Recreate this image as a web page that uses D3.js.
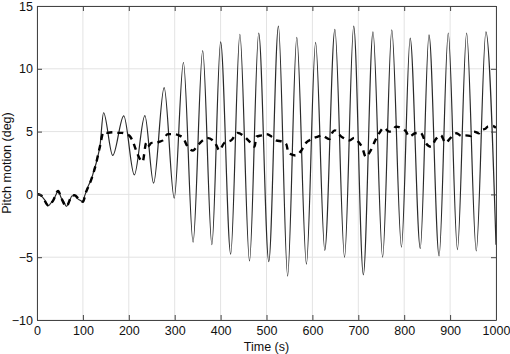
<!DOCTYPE html>
<meta charset="utf-8">
<style>
  body { margin: 0; background: #fff; }
  svg text { font-family: "Liberation Sans", Arial, sans-serif; font-size: 12.5px; fill: #111; }
</style>
<body>
<svg id="chart" width="510" height="354"></svg>
<script src="https://d3js.org/d3.v7.min.js"></script>
<script>
// pitch motion, thin solid line (time s, deg)
var motionTime = [0, 5, 10, 16, 25, 30, 35, 41, 46, 53, 58, 64, 70, 76, 82, 87, 93, 100, 104, 107, 112, 118, 124, 129, 133, 137,
  145, 165, 189, 212, 235, 254, 277, 299, 319, 340, 361, 381, 400, 422, 442, 463,
  483, 505, 526, 546, 566, 587, 607, 627, 649, 670, 690, 711, 732, 753, 773, 794,
  813, 835, 854, 876, 896, 916, 936, 957, 978, 1000]
var motionDeg = [0.03, -0.05, -0.15, -0.4, -0.9, -0.7, -0.5, -0.05, 0.27, -0.3, -0.55, -0.95, -0.6, -0.13, -0.07, -0.3, -0.45, -0.58, -0.1, 0.2, 0.7, 1.15, 1.9, 2.5, 3.1, 3.8,
  6.5, 3.1, 6.25, 1.55, 6.27, 0.9, 8.5, -0.3, 10.5, -3.8, 11.45, -4.0, 12.15, -4.75, 12.75, -5.3,
  12.85, -5.35, 13.4, -6.5, 12.5, -5.55, 12.1, -4.45, 13.15, -5.0, 13.4, -6.4, 12.95, -5.0, 13.1, -4.2,
  12.45, -4.3, 12.7, -4.9, 12.85, -4.4, 12.85, -4.5, 12.95, -4.0]

// mean pitch, thick dashed line
var meanTime = [0, 10, 25, 35, 46, 53, 64, 76, 82, 93, 100, 107, 118, 129, 137, 145, 153,
  165, 175, 185, 194, 203, 210, 216, 223, 230, 238, 241, 250, 260, 267, 274, 285, 296,
  309, 318, 330, 340, 350, 361, 370, 383, 391, 397, 408, 423, 437, 452, 463, 474, 478,
  489, 500, 511, 521, 535, 543, 548, 563, 576, 586, 593, 603, 612, 620, 637, 643, 649,
  663, 673, 681, 691, 700, 709, 716, 727, 737, 746, 756, 767, 774, 782, 795, 804, 811,
  824, 836, 847, 858, 869, 880, 890, 901, 914, 925, 933, 945, 952, 963, 967, 978, 982,
  993, 1000]
var meanDeg = [0.03, -0.1, -0.9, -0.5, 0.27, -0.3, -0.95, -0.13, -0.07, -0.45, -0.58, 0.2, 1.15, 2.5, 3.8, 4.95, 4.9,
  4.95, 4.9, 4.9, 4.8, 4.6, 4.1, 3.5, 2.9, 2.6, 4.1, 3.8, 4.1, 4.1, 4.2, 4.3, 4.8, 4.8,
  4.7, 4.5, 3.7, 3.5, 3.9, 4.3, 4.5, 4.3, 3.9, 3.5, 4.1, 4.3, 4.9, 4.6, 4.2, 3.8, 4.6,
  4.7, 4.8, 4.6, 4.3, 4.2, 4.0, 3.3, 3.1, 3.5, 4.1, 4.3, 4.5, 4.6, 4.7, 4.4, 4.9, 5.1,
  4.6, 4.4, 4.3, 4.5, 4.2, 3.7, 3.0, 3.5, 4.3, 4.9, 5.3, 5.0, 5.07, 5.4, 5.25, 5.0, 4.6,
  4.87, 4.9, 4.1, 3.8, 4.4, 4.7, 4.1, 4.5, 4.87, 4.65, 4.7, 4.65, 5.0, 4.87, 5.1, 5.26, 5.4,
  5.45, 5.3]

var xTicks = [0, 100, 200, 300, 400, 500, 600, 700, 800, 900, 1000]
var yTicks = [-10, -5, 0, 5, 10, 15]

var plotLeft = 37, plotRight = 496, plotTop = 6, plotBottom = 320

var svg = d3.select('#chart')

var x = d3.scaleLinear().domain([0, 1000]).range([plotLeft, plotRight])
var y = d3.scaleLinear().domain([-10, 15]).range([plotBottom, plotTop])

var fmt = function (d) { return d < 0 ? '\u2212' + Math.abs(d) : String(d) }

// grid
var grid = svg.append('g').attr('stroke', '#e3e3e3').attr('stroke-width', 1)
xTicks.forEach(function (t) {
  grid.append('line').attr('x1', x(t)).attr('x2', x(t)).attr('y1', plotTop).attr('y2', plotBottom)
})
yTicks.forEach(function (t) {
  grid.append('line').attr('x1', plotLeft).attr('x2', plotRight).attr('y1', y(t)).attr('y2', y(t))
})

// series
var clip = svg.append('clipPath').attr('id', 'clip')
clip.append('rect').attr('x', plotLeft).attr('y', plotTop)
  .attr('width', plotRight - plotLeft).attr('height', plotBottom - plotTop)

var line = d3.line()
  .x(function (d) { return x(d[0]) })
  .y(function (d) { return y(d[1]) })
  .curve(d3.curveMonotoneX)

var motion = d3.zip(motionTime, motionDeg)
var mean = d3.zip(meanTime, meanDeg)

svg.append('path')
  .attr('clip-path', 'url(#clip)')
  .attr('d', line(motion))
  .attr('fill', 'none')
  .attr('stroke', '#2a2a2a')
  .attr('stroke-width', 1.2)

svg.append('path')
  .attr('clip-path', 'url(#clip)')
  .attr('d', line(mean))
  .attr('fill', 'none')
  .attr('stroke', '#000')
  .attr('stroke-width', 2.4)
  .attr('stroke-dasharray', '6,5')

// axes, ticks inward, box on
var axB = d3.axisBottom(x).tickValues(xTicks).tickSizeInner(-5).tickSizeOuter(0).tickPadding(6).tickFormat(fmt)
var axT = d3.axisTop(x).tickValues(xTicks).tickSizeInner(-5).tickSizeOuter(0).tickFormat('')
var axL = d3.axisLeft(y).tickValues(yTicks).tickSizeInner(-5).tickSizeOuter(0).tickPadding(4).tickFormat(fmt)
var axR = d3.axisRight(y).tickValues(yTicks).tickSizeInner(-5).tickSizeOuter(0).tickFormat('')

function style(g) {
  g.selectAll('path').attr('stroke', '#444')
  g.selectAll('line').attr('stroke', '#444')
  g.selectAll('text').attr('font-size', null).attr('font-family', null).attr('fill', '#111')
}

svg.append('g').attr('transform', 'translate(0,' + plotBottom + ')').call(axB).call(style)
svg.append('g').attr('transform', 'translate(0,' + plotTop + ')').call(axT).call(style)
svg.append('g').attr('transform', 'translate(' + plotLeft + ',0)').call(axL).call(style)
svg.append('g').attr('transform', 'translate(' + plotRight + ',0)').call(axR).call(style)

// labels
svg.append('text')
  .attr('x', (plotLeft + plotRight) / 2)
  .attr('y', 351)
  .attr('text-anchor', 'middle')
  .text('Time (s)')

svg.append('text')
  .attr('transform', 'translate(11,' + (plotTop + plotBottom) / 2 + ') rotate(-90)')
  .attr('text-anchor', 'middle')
  .text('Pitch motion (deg)')
</script>
</body>
